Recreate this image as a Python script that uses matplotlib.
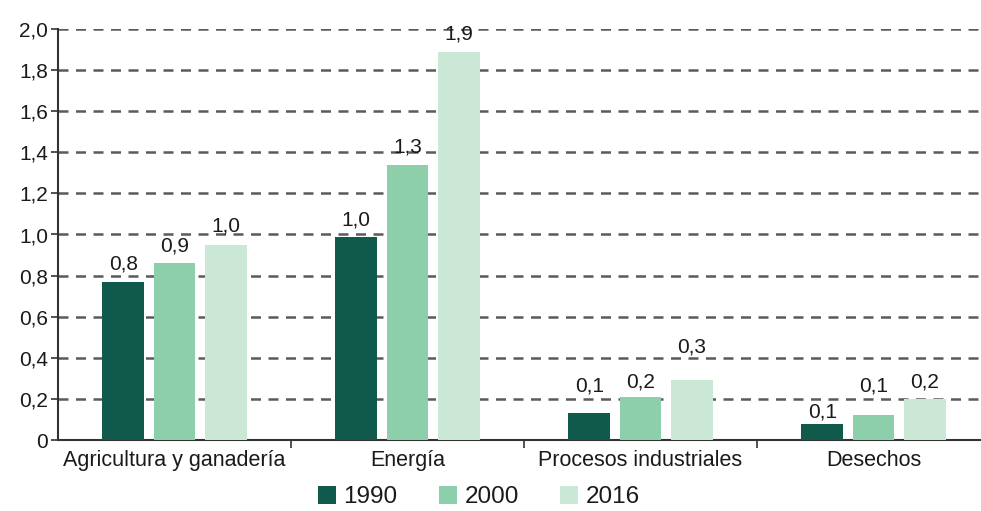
import numpy as np
import matplotlib.pyplot as plt
from matplotlib.patches import Patch
from matplotlib.ticker import FuncFormatter, FixedLocator

categories = ["Agricultura y ganadería", "Energía", "Procesos industriales", "Desechos"]
years = ["1990", "2000", "2016"]
values_1990 = [0.77, 0.99, 0.13, 0.08]
values_2000 = [0.86, 1.34, 0.21, 0.12]
values_2016 = [0.95, 1.89, 0.29, 0.20]
labels_1990 = ["0,8", "1,0", "0,1", "0,1"]
labels_2000 = ["0,9", "1,3", "0,2", "0,1"]
labels_2016 = ["1,0", "1,9", "0,3", "0,2"]

colors = ["#0f5a4b", "#8ecfab", "#cbe7d5"]
text_color = "#1a1a1a"
plt.rcParams['font.family'] = ['Liberation Sans', 'DejaVu Sans']

# vertical gap (px) between bar top and its label, as placed in the source
label_gap = [[8, 7, 18, 2], [8, 8, 5, 20], [9, 8, 24, 7]]

fig = plt.figure(figsize=(9.81, 5.11), dpi=100)
ax = fig.add_axes([58 / 981, 71 / 511, 1 - 58 / 981, 411 / 511])

x = np.arange(len(categories))
step = 0.22
width = 0.18
series = [values_1990, values_2000, values_2016]
labels = [labels_1990, labels_2000, labels_2016]
for i, (vals, labs) in enumerate(zip(series, labels)):
    pos = x + (i - 1) * step
    ax.bar(pos, vals, width=width, color=colors[i], zorder=3)
    for j, (p, v, t) in enumerate(zip(pos, vals, labs)):
        ax.annotate(t, (p, v), xytext=(0, label_gap[i][j] * 0.72), textcoords='offset points',
                    ha='center', va='bottom', fontsize=15, color=text_color, zorder=4)

ax.set_ylim(0, 2.0)
ax.set_xlim(-0.5, (981 - 58) / 233 - 0.5)
ax.set_yticks(np.arange(0, 2.01, 0.2))
ax.yaxis.set_major_formatter(FuncFormatter(lambda v, _: "0" if abs(v) < 1e-9 else f"{v:.1f}".replace(".", ",")))
ax.grid(axis='y', linestyle=(0, (4, 3)), color='#5a5a5a', linewidth=1.8, zorder=1)
ax.set_axisbelow(True)

ax.set_xticks(x)
ax.set_xticklabels(categories, fontsize=15.5, color=text_color)
ax.tick_params(axis='x', which='major', length=0, pad=7)
ax.xaxis.set_minor_locator(FixedLocator([0.5, 1.5, 2.5]))
ax.tick_params(axis='x', which='minor', length=6, width=1.2, color='#333333', direction='out')
ax.tick_params(axis='y', length=5, width=1.2, color='#333333', labelsize=15, labelcolor=text_color, pad=2)

for s in ['top', 'right']:
    ax.spines[s].set_visible(False)
for s in ['left', 'bottom']:
    ax.spines[s].set_color('#333333')
    ax.spines[s].set_linewidth(1.5)

handles = [Patch(facecolor=c, edgecolor='none') for c in colors]
fig.legend(handles, years, loc='center', bbox_to_anchor=(479 / 981, 1 - 497 / 511), ncol=3,
           frameon=False, fontsize=17.5, handlelength=0.75, handleheight=0.75, handletextpad=0.3,
           columnspacing=1.7, labelcolor=text_color)

fig.savefig("out.png", dpi=100)
